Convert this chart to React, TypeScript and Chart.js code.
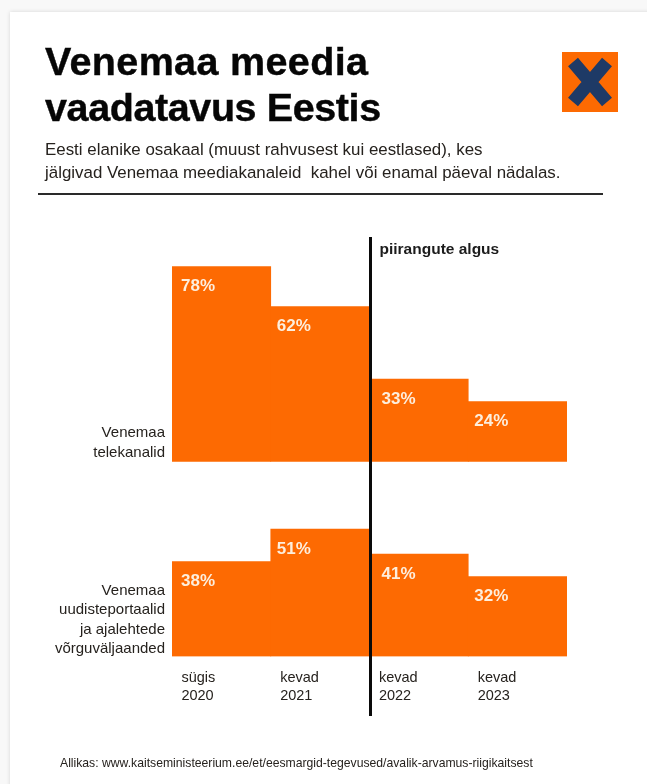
import React, { useEffect, useRef } from "react";
import { Chart, registerables } from "chart.js";

Chart.register(...registerables);

const periods = [["sügis", "2020"], ["kevad", "2021"], ["kevad", "2022"], ["kevad", "2023"]];
const televisionShare = [78, 62, 33, 24];
const portalShare = [38, 51, 41, 32];
const televisionLabel = ["Venemaa", "telekanalid"];
const portalLabel = ["Venemaa", "uudisteportaalid", "ja ajalehtede", "võrguväljaanded"];
const restrictionsNote = "piirangute algus";

const ORANGE = "#fd6a02";
const LABEL_INK = "#26221e";
const FONT = '"Liberation Sans", Arial, sans-serif';

// Both rows share one plot area; each has its own y scale so its baseline lands in its own band.
const annotations = {
  id: "annotations",
  afterDatasetsDraw(chart: any) {
    const { ctx, scales } = chart;
    const x = scales.x;
    const ruleX = (x.getPixelForValue(1) + x.getPixelForValue(2)) / 2 + 1;

    ctx.save();
    ctx.textBaseline = "middle";

    // Percentages sit just inside the top-left of each bar.
    const insets = [9, 6, 12, 6];
    ctx.font = `bold 17px ${FONT}`;
    ctx.fillStyle = "#fdeedd";
    ctx.textAlign = "left";
    chart.data.datasets.forEach((ds: any, d: number) => {
      const meta = chart.getDatasetMeta(d);
      ds.data.forEach((v: number, i: number) => {
        const bar = meta.data[i];
        ctx.fillText(`${v}%`, bar.x - bar.width / 2 + insets[i], bar.y + 20);
      });
    });

    // Restrictions marker between 2021 and 2022.
    ctx.strokeStyle = "#0a0a0a";
    ctx.lineWidth = 3;
    ctx.beginPath();
    ctx.moveTo(ruleX, 237);
    ctx.lineTo(ruleX, 716);
    ctx.stroke();

    ctx.font = `bold 15.5px ${FONT}`;
    ctx.fillStyle = "#1c1c1c";
    ctx.fillText(restrictionsNote, ruleX + 9, 250);

    // Row captions, right-aligned against the bars.
    ctx.font = `15px ${FONT}`;
    ctx.fillStyle = LABEL_INK;
    ctx.textAlign = "right";
    const caption = (lines: string[], lastY: number) =>
      lines.forEach((line, i) => ctx.fillText(line, 165, lastY - (lines.length - 1 - i) * 19.5));
    caption(televisionLabel, scales.yTop.getPixelForValue(0) - 9);
    caption(portalLabel, scales.yBottom.getPixelForValue(0) - 7.5);
    ctx.restore();
  },
};

export default function App() {
  const canvasRef = useRef<HTMLCanvasElement>(null);

  useEffect(() => {
    const chart = new Chart(canvasRef.current!, {
      type: "bar",
      data: {
        labels: periods,
        datasets: [
          { data: televisionShare, backgroundColor: ORANGE, yAxisID: "yTop", grouped: false },
          { data: portalShare, backgroundColor: ORANGE, yAxisID: "yBottom", grouped: false },
        ],
      } as any,
      plugins: [annotations],
      options: {
        animation: false,
        responsive: false,
        layout: { padding: { left: 172, right: 80, top: 241.5, bottom: 0 } },
        plugins: { legend: { display: false }, tooltip: { enabled: false }, title: { display: false } },
        datasets: { bar: { categoryPercentage: 1, barPercentage: 1 } },
        scales: {
          x: {
            grid: { display: false },
            border: { display: false },
            ticks: {
              align: "start",
              labelOffset: -40,
              maxRotation: 0,
              padding: 4,
              color: LABEL_INK,
              font: { family: FONT, size: 14.5, lineHeight: 1.25 },
            },
            afterFit(scale: any) {
              scale.height = 127.5;
            },
          },
          yTop: { display: false, min: -78, max: 88 },
          yBottom: { display: false, min: 0, max: 166 },
        },
      } as any,
    });
    return () => chart.destroy();
  }, []);

  return (
    <div style={{ position: "fixed", inset: 0, overflow: "hidden", background: "#f8f8f8", fontFamily: FONT }}>
      <div
        style={{
          position: "absolute",
          left: 10,
          top: 12,
          width: 700,
          height: 800,
          background: "#ffffff",
          boxShadow: "0 0 4px rgba(0,0,0,0.14)",
        }}
      />
      <canvas ref={canvasRef} width={647} height={784} style={{ position: "absolute", left: 0, top: 0, display: "block" }} />
      <div
        style={{
          position: "absolute",
          left: 45,
          top: 39,
          fontSize: 39.5,
          lineHeight: "45.5px",
          fontWeight: 700,
          color: "#060606",
          whiteSpace: "nowrap",
          WebkitTextStroke: "0.4px #060606",
        }}
      >
        <span style={{ letterSpacing: "0.35px" }}>Venemaa meedia</span>
        <br />
        <span style={{ letterSpacing: "-0.4px" }}>vaadatavus Eestis</span>
      </div>
      <div
        style={{
          position: "absolute",
          left: 45,
          top: 138,
          fontSize: 16.9,
          lineHeight: "23px",
          color: "#26221e",
          whiteSpace: "pre",
        }}
      >
        {"Eesti elanike osakaal (muust rahvusest kui eestlased), kes\njälgivad Venemaa meediakanaleid  kahel või enamal päeval nädalas."}
      </div>
      <div style={{ position: "absolute", left: 38, top: 193, width: 565, height: 2, background: "#2a2a2a" }} />
      <svg style={{ position: "absolute", left: 562, top: 52 }} width={56} height={60} viewBox="0 0 56 60">
        <rect width={56} height={60} fill={ORANGE} />
        <path d="M11 10 L45 50 M45 10 L11 50" stroke="#1e3a66" strokeWidth={13} />
      </svg>
      <div
        style={{
          position: "absolute",
          left: 60,
          top: 756,
          fontSize: 12.2,
          lineHeight: "15px",
          color: "#26221e",
          whiteSpace: "nowrap",
        }}
      >
        Allikas:  www.kaitseministeerium.ee/et/eesmargid-tegevused/avalik-arvamus-riigikaitsest
      </div>
    </div>
  );
}
